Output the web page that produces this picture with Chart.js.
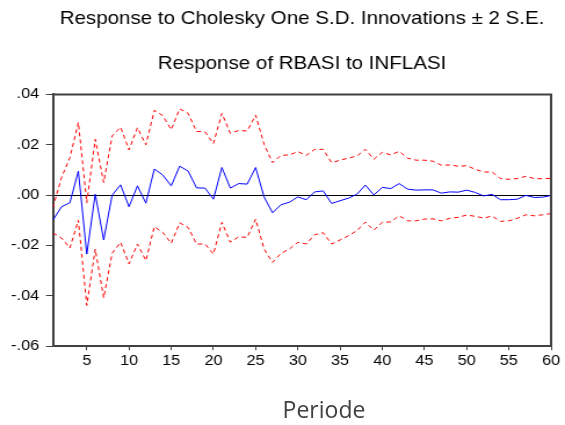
<!DOCTYPE html>
<html>
<head>
<meta charset="utf-8">
<script src="https://cdn.jsdelivr.net/npm/chart.js@4"></script>
<style>
  body { margin: 0; background: #fff; }
  #wrap { position: relative; width: 565px; height: 425px; overflow: hidden; }
  /* the source graph is stretched sideways, so the canvas is drawn narrow and widened */
  #irfChart { transform: scaleX(1.1602); transform-origin: 0 0; }
  #xTitle {
    position: absolute; left: 224px; top: 398px; width: 200px;
    text-align: center; font: 23px/23px "Open Sans", sans-serif; color: #404040;
  }
</style>
</head>
<body>
<div id="wrap">
  <canvas id="irfChart" width="487" height="425"></canvas>
  <div id="xTitle">Periode</div>
</div>
<script>
const periods = Array.from({ length: 60 }, (_, i) => i + 1);
const xTicks = [5, 10, 15, 20, 25, 30, 35, 40, 45, 50, 55, 60];
const yTicks = [-0.06, -0.04, -0.02, 0, 0.02, 0.04];

const response = [
  -0.0099, -0.0046, -0.003, 0.0096, -0.0234, 0.0004, -0.0178, 0.0, 0.0041, -0.0046,
  0.0037, -0.0032, 0.0104, 0.008, 0.0037, 0.0115, 0.0096, 0.0029, 0.0028, -0.0016,
  0.011, 0.0028, 0.0046, 0.0044, 0.011, -0.0007, -0.007, -0.0038, -0.0028, -0.0007,
  -0.0018, 0.0013, 0.0017, -0.0033, -0.0022, -0.0012, 0.0004, 0.004, 0.0001, 0.0031,
  0.0026, 0.0046, 0.0024, 0.002, 0.0021, 0.0021, 0.0008, 0.0013, 0.0012, 0.002,
  0.0011, -0.0003, 0.0003, -0.0018, -0.0018, -0.0016, -0.0001, -0.0009, -0.0008, -0.0001
];
const upper = [
  -0.0049, 0.007, 0.0149, 0.0289, -0.003, 0.0222, 0.005, 0.0235, 0.027, 0.018,
  0.0268, 0.020, 0.0337, 0.0316, 0.026, 0.0343, 0.0325, 0.0253, 0.0252, 0.0205,
  0.0325, 0.0246, 0.0257, 0.0255, 0.0318, 0.0202, 0.0129, 0.0158, 0.016, 0.0173,
  0.0158, 0.0182, 0.0182, 0.0129, 0.0139, 0.0147, 0.0156, 0.0182, 0.0143, 0.017,
  0.016, 0.0174, 0.0147, 0.0139, 0.0139, 0.0135, 0.0119, 0.012, 0.0115, 0.0117,
  0.0103, 0.0092, 0.0092, 0.0066, 0.0063, 0.0066, 0.0075, 0.0066, 0.0065, 0.0067
];
const lower = [
  -0.015, -0.017, -0.021, -0.0099, -0.0438, -0.0214, -0.0408, -0.0231, -0.0187, -0.0273,
  -0.0194, -0.026, -0.0125, -0.0148, -0.0191, -0.011, -0.0128, -0.0194, -0.0194, -0.0234,
  -0.0108, -0.0187, -0.0165, -0.0168, -0.0095, -0.0214, -0.0267, -0.0231, -0.0214, -0.0187,
  -0.0194, -0.0157, -0.0149, -0.0194, -0.0178, -0.0161, -0.0141, -0.0107, -0.0139, -0.0108,
  -0.0106, -0.0082, -0.0102, -0.0102, -0.0095, -0.0094, -0.0102, -0.0092, -0.0088, -0.0079,
  -0.0084, -0.0091, -0.0083, -0.0104, -0.0102, -0.0092, -0.0078, -0.0082, -0.0078, -0.0073
];

const axisColor = '#404040';

// top and right edges of the plot frame
const frame = {
  id: 'frame',
  afterDraw(chart) {
    const { ctx, chartArea: a } = chart;
    ctx.save();
    ctx.strokeStyle = axisColor;
    ctx.lineWidth = 2;
    ctx.beginPath();
    ctx.moveTo(a.left, a.top);
    ctx.lineTo(a.right, a.top);
    ctx.lineTo(a.right, a.bottom);
    ctx.stroke();
    ctx.restore();
  }
};

function fmt(v) {
  const s = Math.abs(v).toFixed(2).replace(/^0/, '');
  return (v < -1e-9 ? '-' : '') + s;
}

const ctx = document.getElementById('irfChart').getContext('2d');
new Chart(ctx, {
  type: 'line',
  data: {
    labels: periods,
    datasets: [
      {
        label: 'Response',
        data: response,
        borderColor: '#0000ff',
        borderWidth: 1,
        pointRadius: 0,
        tension: 0
      },
      {
        label: '+2 S.E.',
        data: upper,
        borderColor: '#ff0000',
        borderWidth: 1,
        borderDash: [4, 3],
        pointRadius: 0,
        tension: 0
      },
      {
        label: '-2 S.E.',
        data: lower,
        borderColor: '#ff0000',
        borderWidth: 1,
        borderDash: [4, 3],
        pointRadius: 0,
        tension: 0
      }
    ]
  },
  options: {
    responsive: false,
    animation: false,
    layout: { padding: { left: 0, right: 12, top: 0, bottom: 52 } },
    plugins: {
      legend: { display: false },
      tooltip: { enabled: false },
      title: {
        display: true,
        fullSize: false,
        text: 'Response to Cholesky One S.D. Innovations \u00b1 2 S.E.',
        color: '#000',
        font: { family: 'Liberation Sans', size: 17.7, weight: 'normal' },
        padding: { top: 8, bottom: 0 }
      },
      subtitle: {
        display: true,
        fullSize: false,
        text: 'Response of RBASI to INFLASI',
        color: '#000',
        font: { family: 'Liberation Sans', size: 17.7, weight: 'normal' },
        padding: { top: 24, bottom: 20 }
      }
    },
    scales: {
      x: {
        type: 'linear',
        min: 1,
        max: 60,
        afterBuildTicks(scale) {
          scale.ticks = xTicks.map(v => ({ value: v }));
        },
        grid: { drawOnChartArea: false, tickLength: 4, tickColor: axisColor },
        border: { color: axisColor, width: 2 },
        ticks: {
          color: '#000',
          padding: 3,
          maxRotation: 0,
          font: { family: 'Liberation Sans', size: 14 }
        }
      },
      y: {
        min: -0.06,
        max: 0.04,
        afterBuildTicks(scale) {
          scale.ticks = yTicks.map(v => ({ value: v }));
        },
        afterFit(scale) {
          scale.width = 45.7;
        },
        grid: {
          tickLength: 6,
          tickColor: axisColor,
          color: c => (c.tick && Math.abs(c.tick.value) < 1e-9 ? '#000' : 'rgba(0,0,0,0)'),
          lineWidth: 1
        },
        border: { color: axisColor, width: 2 },
        ticks: {
          color: '#000',
          padding: 6,
          font: { family: 'Liberation Sans', size: 14 },
          callback: v => fmt(v)
        }
      }
    }
  },
  plugins: [frame]
});
</script>
</body>
</html>
